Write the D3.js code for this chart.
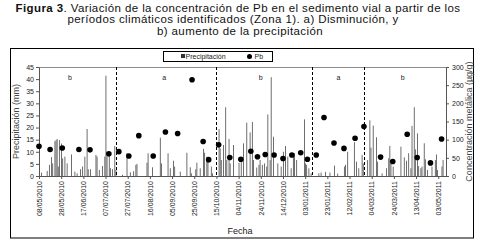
<!DOCTYPE html>
<html>
<head>
<meta charset="utf-8">
<script src="https://cdn.jsdelivr.net/npm/d3@7"></script>
<style>
	body { margin: 0; background: white; }
	svg { display: block; font-family: 'Liberation Sans', Arial, sans-serif; }
</style>
</head>
<body>
<svg id="chart" width="481" height="242"></svg>
<script>
var startDate = '08/05/2010';
var endDate = '10/05/2011';

// daily rainfall (mm) starting 08/05/2010, one line per month
var precipitation = [
	0,0,1.4,0,0,0,0,2.1,0,4.6,0,7.8,5.2,0,14.4,14.8,15.3,3.9,14.8,0,13.4,7.3,0,8,
	0,5.2,0,0,0,8.9,0,0,1.8,0,1.1,0,0,2.8,0,3.9,0,8,0,19.4,2.8,0,2.8,0,0,0,0,8.7,8,0,
	2.5,0,0,4.1,0,8,41.4,10,0,8.7,3.2,0,2.8,0,12.4,2.5,0,0,0,0,0,0.5,0,0,0,9.5,0,0,1.5,0,0,
	2,0,4.6,5,0,0,0,0,0,0,0,0,5.5,9.4,0,0,0,3.6,0,0,0,0,0,0,15.8,5.2,0,0,0,0,0,
	9.4,0,3.2,0,0,6.3,3.9,0,0,0,0,1.8,0,0,0,0,0,9.6,0,0,3.6,1.1,0,0,0,2.8,5.5,0,0,3.2,
	0,0,11.2,9.6,0,8,6.6,0,0,3.9,1.1,0,0,0,0,0,19.3,11.4,6.6,0,12.8,0,28.4,6.6,0,15.3,5.2,0,0,12.8,0,
	0,0,0,5.5,0,6.6,0,13.5,0,0,22,0,0,18,0,22.3,6.6,0,0,3.5,0,4.6,6.6,0,4.6,0,5.2,0,3.9,25.4,
	0,6.6,40.8,0,16.2,0,0,0,5.2,0,0,3.9,0,10,0,12.4,0,8,0,0,3.2,0,8,9.4,0,6.6,0,0,0,0,0,
	0,23.4,5.2,4.6,0,3.2,0,1.1,0,0,0,0,0,0,1.1,0,1.4,0,0,0,1.7,0,0,0,1.4,0,0,0,4.3,0,0,
	1,0,0,0,0,0,3.9,4.6,0,10,0,0,0,0,0,14,0,5.9,0,3.2,0,0,8.7,5.2,0,0,0,6.6,
	0,23,11.7,0,20.8,0,0,16,5.9,0,0,0,1.1,0,0,0,3.2,0,7.3,12.4,6.6,0,3.9,0,0,0,0,0,0,12.1,0,
	0,7.7,0,6.3,0,9.4,0,3.2,20.7,0,28.4,11,0,17.6,4.1,0,3.2,3.9,0,13.5,6.9,0,2.5,0,0,0,3.9,0,0,6.6,
	8.9,2.5,0,0,0,3.9,6.6,0,0
];

// Pb in road sediment (ug/g)
var pbDates = ['08/05/2010','18/05/2010','29/05/2010','13/06/2010','23/06/2010','10/07/2010','19/07/2010',
	'28/07/2010','06/08/2010','19/08/2010','30/08/2010','10/09/2010','23/09/2010','03/10/2010','08/10/2010',
	'17/10/2010','27/10/2010','06/11/2010','15/11/2010','21/11/2010','28/11/2010','06/12/2010','14/12/2010',
	'22/12/2010','30/12/2010','05/01/2011','13/01/2011','20/01/2011','29/01/2011','07/02/2011','17/02/2011',
	'25/02/2011','12/03/2011','23/03/2011','05/04/2011','14/04/2011','26/04/2011','06/05/2011'];
var pbValues = [82,73,77,73,72,61,67,55,111,55,121,117,265,95,45,86,51,46,68,53,59,58,48,58,64,46,58,
	161,91,76,104,136,52,40,115,51,36,102];

var tickDates = ['08/05/2010','28/05/2010','17/06/2010','07/07/2010','27/07/2010','16/08/2010','05/09/2010',
	'25/09/2010','15/10/2010','04/11/2010','24/11/2010','14/12/2010','03/01/2011','23/01/2011','12/02/2011',
	'04/03/2011','24/03/2011','13/04/2011','03/05/2011'];
var leftTicks = [0,5,10,15,20,25,30,35,40,45];
var rightTicks = [0,50,100,150,200,250,300];

// climatic periods
var periodBreaks = ['16/07/2010','15/10/2010','09/01/2011','25/02/2011'];
var periodLabels = ['b','a','b','a','b'];
var periodLabelDates = ['05/06/2010','29/08/2010','24/11/2010','02/02/2011','01/04/2011'];

function init() {
	let parse = d3.utcParse('%d/%m/%Y');
	let fmt = d3.utcFormat('%d/%m/%Y');
	let svg = d3.select('#chart');

	let plotLeft = 39, plotRight = 446, plotTop = 67, plotBottom = 176;

	// title
	let t1 = svg.append('text').attr('x', 238).attr('y', 11.5).attr('text-anchor', 'middle')
		.style('font-size', '11.5px').style('letter-spacing', '0.4px').attr('fill', '#111');
	t1.append('tspan').style('font-weight', 'bold').text('Figura 3');
	t1.append('tspan').text('. Variación de la concentración de Pb en el sedimento vial a partir de los');
	svg.append('text').attr('x', 233).attr('y', 23.3).attr('text-anchor', 'middle')
		.style('font-size', '11.5px').style('letter-spacing', '0.4px').attr('fill', '#111')
		.text('períodos climáticos identificados (Zona 1). a) Disminución, y');
	svg.append('text').attr('x', 240).attr('y', 35).attr('text-anchor', 'middle')
		.style('font-size', '11.5px').style('letter-spacing', '0.4px').attr('fill', '#111')
		.text('b) aumento de la precipitación');

	// chart frame
	svg.append('rect')
		.attr('x', 10.5).attr('y', 48.5).attr('width', 463).attr('height', 189.5)
		.style('fill', 'none').style('stroke', 'black')
	;

	let x = d3.scaleUtc()
		.domain([parse(startDate), parse(endDate)])
		.range([plotLeft, plotRight])
	;
	let yL = d3.scaleLinear().domain([0, 45]).range([plotBottom, plotTop]);
	let yR = d3.scaleLinear().domain([0, 300]).range([plotBottom, plotTop]);

	// top border of plot area
	svg.append('line')
		.attr('x1', plotLeft).attr('x2', plotRight).attr('y1', plotTop + 0.5).attr('y2', plotTop + 0.5)
		.style('stroke', '#8c8c8c')
	;

	// precipitation bars
	let days = precipitation.map((v, i) => ({ date: d3.utcDay.offset(parse(startDate), i), val: v }));
	let barW = 0.72 * (x(d3.utcDay.offset(parse(startDate), 1)) - x(parse(startDate)));
	svg.append('g').selectAll('rect').data(days.filter(d => d.val > 0)).join('rect')
		.attr('x', d => x(d.date))
		.attr('y', d => yL(d.val))
		.attr('width', barW)
		.attr('height', d => yL(0) - yL(d.val))
		.style('fill', '#4a4a4a')
	;

	// period separators
	svg.append('g').selectAll('line').data(periodBreaks).join('line')
		.attr('x1', d => Math.round(x(parse(d))) + 0.5).attr('x2', d => Math.round(x(parse(d))) + 0.5)
		.attr('y1', plotTop).attr('y2', plotBottom)
		.style('stroke', 'black').style('stroke-dasharray', '3,2')
	;
	svg.append('g').selectAll('text').data(periodLabels).join('text')
		.attr('x', (d, i) => x(parse(periodLabelDates[i])))
		.attr('y', 80)
		.attr('text-anchor', 'middle')
		.style('font-size', '7px').attr('fill', '#222')
		.text(d => d)
	;

	// axes
	let axL = svg.append('g').attr('transform', 'translate(' + plotLeft + ',0)')
		.call(d3.axisLeft(yL).tickValues(leftTicks).tickSize(3).tickSizeOuter(0).tickPadding(2));
	let axR = svg.append('g').attr('transform', 'translate(' + plotRight + ',0)')
		.call(d3.axisRight(yR).tickValues(rightTicks).tickSize(3).tickSizeOuter(0).tickPadding(3));
	let axB = svg.append('g').attr('transform', 'translate(0,' + plotBottom + ')')
		.call(d3.axisBottom(x).tickValues(tickDates.map(parse)).tickFormat(fmt).tickSize(3).tickSizeOuter(0));
	for (ax of [axL, axR, axB]) {
		ax.selectAll('path, line').style('stroke', '#555');
		ax.selectAll('text').style('font-size', '7px').style('font-family', null).attr('fill', '#222');
	}
	axB.selectAll('text')
		.attr('transform', 'rotate(-90)')
		.attr('x', -5).attr('y', 0).attr('dy', '0.32em')
		.attr('text-anchor', 'end')
	;

	// Pb points
	svg.append('g').selectAll('circle').data(pbValues).join('circle')
		.attr('cx', (d, i) => x(parse(pbDates[i])))
		.attr('cy', d => yR(d))
		.attr('r', 2.8)
		.style('fill', 'black')
	;

	// axis titles
	svg.append('text')
		.attr('transform', 'translate(19,' + (plotTop + plotBottom) / 2 + ') rotate(-90)')
		.attr('text-anchor', 'middle').style('font-size', '9px').attr('fill', '#444')
		.text('Precipitación (mm)')
	;
	svg.append('text')
		.attr('transform', 'translate(472,' + (plotTop + plotBottom) / 2 + ') rotate(-90)')
		.attr('text-anchor', 'middle').style('font-size', '9px').attr('fill', '#444')
		.text('Concentración metálica (µg/g)')
	;
	svg.append('text')
		.attr('x', 240).attr('y', 234).attr('text-anchor', 'middle')
		.style('font-size', '9px').attr('fill', '#222')
		.text('Fecha')
	;

	// legend
	let lg = svg.append('g');
	lg.append('rect')
		.attr('x', 163.5).attr('y', 51.5).attr('width', 109).attr('height', 10)
		.style('fill', 'white').style('stroke', 'black')
	;
	lg.append('rect').attr('x', 181).attr('y', 54).attr('width', 4).attr('height', 4).style('fill', '#333');
	lg.append('text').attr('x', 185.5).attr('y', 59).style('font-size', '7px').attr('fill', '#222').text('Precipitación');
	lg.append('circle').attr('cx', 249.5).attr('cy', 56.5).attr('r', 2.5).style('fill', 'black');
	lg.append('text').attr('x', 254.5).attr('y', 59).style('font-size', '7px').attr('fill', '#222').text('Pb');
}

init();
</script>
</body>
</html>
